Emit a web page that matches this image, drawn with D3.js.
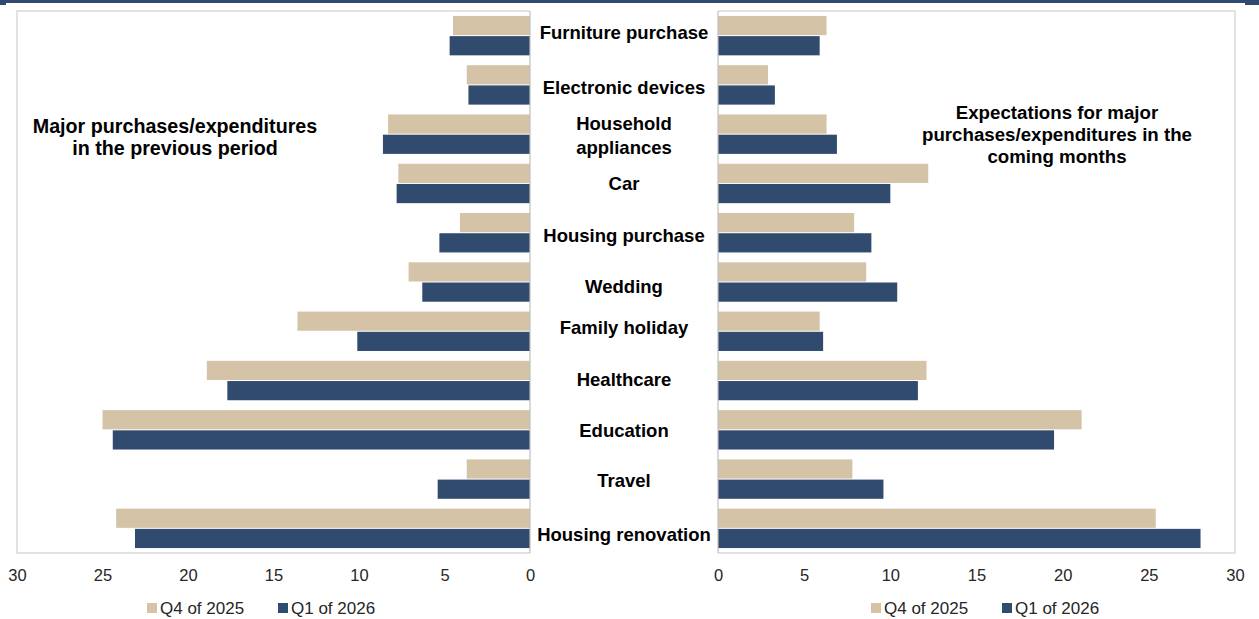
<!DOCTYPE html>
<html>
<head>
<meta charset="utf-8">
<script src="https://cdn.jsdelivr.net/npm/d3@7"></script>
<style>
  html, body { margin: 0; padding: 0; background: #fff; }
  svg { display: block; font-family: "Liberation Sans", Arial, sans-serif; }
</style>
</head>
<body>
<svg id="chart" width="1259" height="619"></svg>
<script>
// Categories, top to bottom
const categories = [
  "Furniture purchase", "Electronic devices", "Household appliances", "Car",
  "Housing purchase", "Wedding", "Family holiday", "Healthcare",
  "Education", "Travel", "Housing renovation"
];
const seriesNames = ["Q4 of 2025", "Q1 of 2026"];

// Share of respondents (%) - previous period
const pastQ4 = [4.5, 3.7, 8.3, 7.7, 4.1, 7.1, 13.6, 18.9, 25.0, 3.7, 24.2];
const pastQ1 = [4.7, 3.6, 8.6, 7.8, 5.3, 6.3, 10.1, 17.7, 24.4, 5.4, 23.1];
// Share of respondents (%) - coming months
const nextQ4 = [6.3, 2.9, 6.3, 12.2, 7.9, 8.6, 5.9, 12.1, 21.1, 7.8, 25.4];
const nextQ1 = [5.9, 3.3, 6.9, 10.0, 8.9, 10.4, 6.1, 11.6, 19.5, 9.6, 28.0];

const tickValues = [0, 5, 10, 15, 20, 25, 30];
const leftTitle = ["Major purchases/expenditures", "in the previous period"];
const rightTitle = ["Expectations for major", "purchases/expenditures in the", "coming months"];

// Styling
const colors = { "Q4 of 2025": "#D5C3A7", "Q1 of 2026": "#314B6F" };
const navy = "#2F4A6E";
const plotTop = 11, plotBottom = 553;
// small vertical nudges for the category labels (px)
const labelNudge = [-3, 3, 1.5, 0, 3, 5, -4, -1, 1, 1, 6];

const svg = d3.select("#chart");
svg.append("rect").attr("width", 1259).attr("height", 619).attr("fill", "#fff");

// header stripe
svg.append("rect").attr("x", 0).attr("y", 0).attr("width", 1259).attr("height", 3).attr("fill", navy);
svg.append("rect").attr("x", 0).attr("y", 0).attr("width", 6).attr("height", 5).attr("fill", navy);
svg.append("rect").attr("x", 1245).attr("y", 0).attr("width", 14).attr("height", 5).attr("fill", navy);

const xLeft = d3.scaleLinear().domain([0, 30]).range([530, 17]);
const xRight = d3.scaleLinear().domain([0, 30]).range([718, 1235]);
const y = d3.scaleBand().domain(categories).range([plotTop, plotBottom]).paddingInner(0.2).paddingOuter(0.1);
const ySub = d3.scaleBand().domain(seriesNames).range([0, y.bandwidth()]).paddingInner(0.05);

// panel frames
const frame = svg.append("g").attr("fill", "none");
frame.append("path")
  .attr("d", `M${xLeft(0)},${plotTop}H${xLeft(30)}V${plotBottom}H${xLeft(0)}`)
  .attr("stroke", "#D9D9D9").attr("stroke-width", 1.5);
frame.append("path")
  .attr("d", `M${xRight(0)},${plotTop}H${xRight(30)}V${plotBottom}H${xRight(0)}`)
  .attr("stroke", "#D9D9D9").attr("stroke-width", 1.5);

function drawPanel(x, q4, q1, dir) {
  const rows = categories.map((c, i) => ({ c, vals: [ ["Q4 of 2025", q4[i]], ["Q1 of 2026", q1[i]] ] }));
  const g = svg.append("g");
  const grp = g.selectAll("g.cat").data(rows).join("g")
    .attr("class", "cat")
    .attr("transform", d => `translate(0,${y(d.c)})`);
  grp.selectAll("rect").data(d => d.vals).join("rect")
    .attr("x", d => dir < 0 ? x(d[1]) : x(0))
    .attr("width", d => Math.abs(x(d[1]) - x(0)))
    .attr("y", d => ySub(d[0]))
    .attr("height", ySub.bandwidth())
    .attr("fill", d => colors[d[0]]);
  // zero axis line
  g.append("line")
    .attr("x1", x(0)).attr("x2", x(0)).attr("y1", plotTop).attr("y2", plotBottom)
    .attr("stroke", "#BFBFBF").attr("stroke-width", 1.2);
  // tick labels
  const ax = g.append("g").attr("transform", `translate(0,${plotBottom})`)
    .call(d3.axisBottom(x).tickValues(tickValues).tickSize(0).tickPadding(16).tickFormat(d3.format("d")));
  ax.select(".domain").remove();
  ax.selectAll("text").attr("font-size", 16.5).attr("fill", "#262626")
    .attr("font-family", "Liberation Sans, Arial, sans-serif");
}
drawPanel(xLeft, pastQ4, pastQ1, -1);
drawPanel(xRight, nextQ4, nextQ1, 1);

// category labels between the panels
const midX = (xLeft(0) + xRight(0)) / 2;
const labels = svg.append("g").attr("text-anchor", "middle")
  .attr("font-weight", "bold").attr("font-size", 18.5).attr("fill", "#000");
categories.forEach((c, i) => {
  const cy = y(c) + y.bandwidth() / 2 + labelNudge[i];
  const lines = c === "Household appliances" ? ["Household", "appliances"] : [c];
  const t = labels.append("text").attr("x", midX);
  lines.forEach((ln, k) => {
    t.append("tspan").attr("x", midX)
      .attr("y", cy + (k - (lines.length - 1) / 2) * 24)
      .attr("dy", "0.35em").text(ln);
  });
});

// panel titles
const lt = svg.append("text").attr("text-anchor", "middle").attr("font-weight", "bold")
  .attr("font-size", 19.7).attr("fill", "#000");
leftTitle.forEach((ln, k) => lt.append("tspan").attr("x", 175).attr("y", 133 + k * 22).text(ln));
const rt = svg.append("text").attr("text-anchor", "middle").attr("font-weight", "bold")
  .attr("font-size", 18.7).attr("fill", "#000");
rightTitle.forEach((ln, k) => rt.append("tspan").attr("x", 1057).attr("y", 119 + k * 22).text(ln));

// legends
function legend(x0) {
  const g = svg.append("g").attr("transform", `translate(${x0},608)`);
  const offs = [0, 131];
  seriesNames.forEach((s, i) => {
    g.append("rect").attr("x", offs[i]).attr("y", -5).attr("width", 10).attr("height", 10).attr("fill", colors[s]);
    g.append("text").attr("x", offs[i] + 13).attr("y", 0).attr("dy", "0.35em")
      .attr("font-size", 17).attr("fill", "#262626").text(s);
  });
}
legend(147);
legend(871);
</script>
</body>
</html>
